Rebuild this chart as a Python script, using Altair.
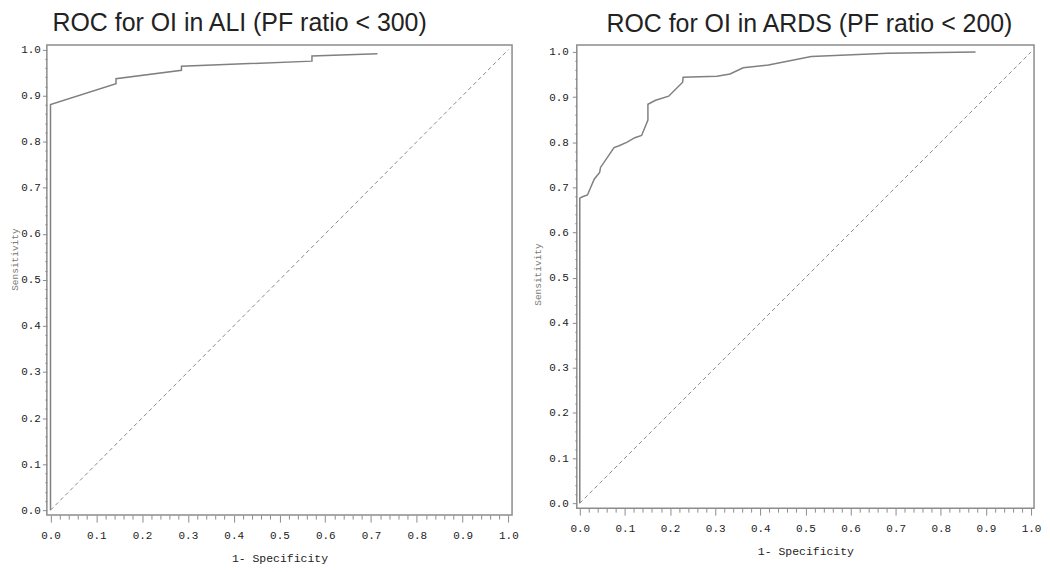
import altair as alt
import pandas as pd

# ---- data ----
ali_fpr = [0.0, 0.0, 0.143, 0.143, 0.286, 0.286, 0.571, 0.571, 0.714]
ali_tpr = [0.0, 0.881, 0.926, 0.937, 0.955, 0.964, 0.975, 0.986, 0.991]

ards_fpr = [0.0, 0.0, 0.006, 0.017, 0.032, 0.044, 0.046, 0.076, 0.087, 0.105,
            0.122, 0.137, 0.151, 0.151, 0.168, 0.197, 0.228, 0.229, 0.304,
            0.333, 0.362, 0.418, 0.513, 0.682, 0.877]
ards_tpr = [0.0, 0.676, 0.679, 0.683, 0.718, 0.733, 0.744, 0.788, 0.792, 0.800,
            0.810, 0.815, 0.849, 0.884, 0.893, 0.902, 0.933, 0.944, 0.946,
            0.951, 0.965, 0.971, 0.990, 0.997, 1.0]

diag_x = [0.0, 1.0]
diag_y = [0.0, 1.0]

tick_values = [round(i * 0.02, 2) for i in range(51)]

titles = ["ROC for OI in ALI (PF ratio < 300)", "ROC for OI in ARDS (PF ratio < 200)"]
x_title = "1- Specificity"
y_title = "Sensitivity"

MAJOR = "abs(datum.value*10 - round(datum.value*10)) < 0.001"
LABEL_EXPR = MAJOR + " ? format(datum.value, '.1f') : ''"
MONO = "Liberation Mono"


def panel(fpr, tpr, title, w, h, xdom, ydom, dx, toff, ytitle_y, ylabpad, ytitpad):
    curve = pd.DataFrame({"fpr": fpr, "tpr": tpr, "idx": list(range(len(fpr)))})
    diag = pd.DataFrame({"fpr": diag_x, "tpr": diag_y, "idx": [0, 1]})
    x = alt.X(
        "fpr:Q",
        scale=alt.Scale(domain=xdom, nice=False, zero=False),
        axis=alt.Axis(
            values=tick_values, tickCount=200, labelExpr=LABEL_EXPR, title=x_title,
            tickSize={"condition": {"test": MAJOR, "value": 7}, "value": 4},
            labelPadding=7, titlePadding=13, titleFontSize=11.5,
            labelFlush=False, labelOverlap=False,
        ),
    )
    y = alt.Y(
        "tpr:Q",
        scale=alt.Scale(domain=ydom, nice=False, zero=False),
        axis=alt.Axis(
            values=tick_values, tickCount=200, labelExpr=LABEL_EXPR, title=y_title,
            tickSize={"condition": {"test": MAJOR, "value": 4.5}, "value": 2},
            labelPadding=ylabpad, titlePadding=ytitpad, titleFontSize=9.5, titleColor="#777",
            titleY=ytitle_y, labelFlush=False, labelOverlap=False,
        ),
    )
    line = alt.Chart(curve).mark_line(color="#808080", strokeWidth=1.5, clip=True).encode(
        x=x, y=y, order="idx:Q"
    )
    dline = alt.Chart(diag).mark_line(color="#8a8a8a", strokeWidth=1, strokeDash=[4, 3]).encode(
        x="fpr:Q", y="tpr:Q", order="idx:Q"
    )
    return alt.layer(dline, line).properties(
        width=w, height=h,
        title=alt.TitleParams(
            title, font="Liberation Sans", fontSize=25, fontWeight="normal",
            color="#222", anchor="middle", dx=dx, offset=toff,
        ),
    )


left = panel(ali_fpr, ali_tpr, titles[0], 467, 472, [-0.008, 1.008], [-0.0108, 1.0102],
             -40, 8, 215, 2, 1)
right = panel(ards_fpr, ards_tpr, titles[1], 459, 465, [-0.0066, 1.0066], [-0.011, 1.0155],
              4, 8, 230, 4, 6)

chart = (
    alt.hconcat(left, right, spacing=12)
    .properties(padding=0, background="white")
    .configure_view(stroke="#8c8c8c", strokeWidth=1.5)
    .configure_axis(
        domain=False, grid=False, tickColor="#8c8c8c", tickWidth=1,
        labelFont=MONO, labelFontSize=11, labelColor="#222",
        titleFont=MONO, titleFontWeight="normal", titleColor="#222",
    )
)

chart.save("out.html", embed_options={"renderer": "svg", "actions": False})
